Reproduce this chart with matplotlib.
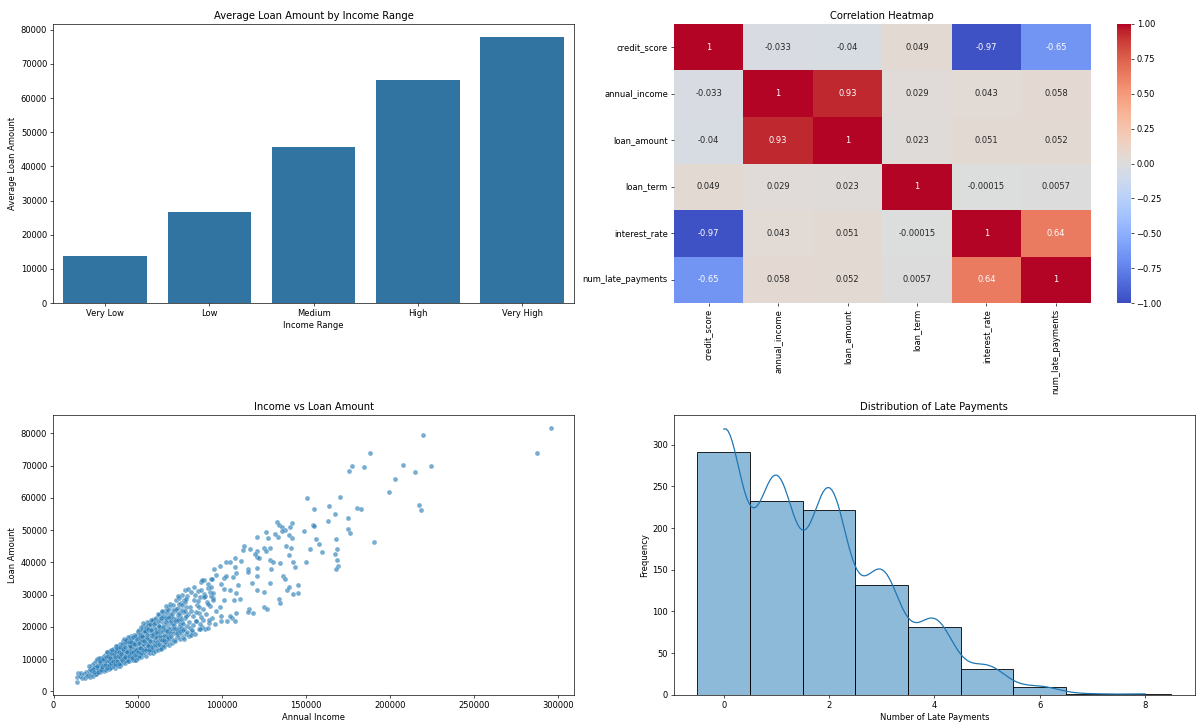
import numpy as np
import pandas as pd
import matplotlib
matplotlib.use('Agg')
import matplotlib.pyplot as plt
import seaborn as sns

# average loan by income range
income_ranges = ['Very Low', 'Low', 'Medium', 'High', 'Very High']
avg_loan = [13850, 26800, 45600, 65300, 77800]

# correlation matrix
cols = ['credit_score', 'annual_income', 'loan_amount', 'loan_term', 'interest_rate', 'num_late_payments']
corr_values = [
    [1, -0.033, -0.04, 0.049, -0.97, -0.65],
    [-0.033, 1, 0.93, 0.029, 0.043, 0.058],
    [-0.04, 0.93, 1, 0.023, 0.051, 0.052],
    [0.049, 0.029, 0.023, 1, -0.00015, 0.0057],
    [-0.97, 0.043, 0.051, -0.00015, 1, 0.64],
    [-0.65, 0.058, 0.052, 0.0057, 0.64, 1],
]

# income vs loan (dense part is approximate)
points = [
    (13800, 2900), (14100, 4400), (14300, 5600), (15600, 4700), (16200, 5800), (17100, 4100), (17900, 5500), (18600, 4200), (19400, 6100), (19800, 4900),
    (20500, 5100), (20900, 6300), (21400, 4600), (21800, 7000), (22300, 5500), (22700, 8200), (23100, 6200), (23500, 4900), (23900, 7600), (24200, 8900),
    (24600, 5400), (25000, 6700), (25300, 9400), (25700, 7200), (26100, 5600), (26400, 8300), (26800, 9900), (27200, 6400), (27500, 7800), (27900, 5900),
    (28200, 10300), (28500, 8600), (28800, 6700), (29100, 9200), (29400, 7400), (29700, 10800), (29900, 6200), (21100, 8000), (22000, 6800), (24800, 7500),
    (26000, 10100), (27700, 8700), (28900, 9800), (23300, 7100), (25500, 5300), (26600, 6900), (29600, 8200), (24000, 6000), (27000, 10500), (28400, 7000),
    (30200, 7000), (30500, 9100), (30800, 11200), (31100, 6600), (31400, 8400), (31700, 10400), (32000, 12100), (32300, 7700), (32600, 9600), (32900, 11500),
    (33200, 6900), (33500, 8800), (33800, 10900), (34100, 12700), (34400, 7500), (34700, 9300), (35000, 11800), (35300, 13300), (35600, 8100), (35900, 10200),
    (36200, 12400), (36500, 7400), (36800, 9700), (37100, 13700), (37400, 8500), (37700, 11000), (38000, 14200), (38300, 7900), (38600, 10600), (38900, 12900),
    (39200, 8800), (39500, 11700), (39800, 14800), (30300, 10100), (31200, 9500), (31900, 8000), (32700, 10800), (33400, 12500), (34000, 9900), (34900, 8500),
    (35500, 12200), (36000, 9000), (36700, 11300), (37300, 10100), (37900, 12000), (38500, 9200), (39100, 13600), (39700, 10400), (33000, 9400), (35200, 7800),
    (36400, 13100), (37600, 8200), (38800, 11400), (39400, 7900), (31500, 12300), (34600, 11100), (36900, 14100), (38200, 13200), (39900, 9700), (33700, 7300),
    (40200, 8500), (40500, 10900), (40800, 13400), (41100, 15600), (41400, 9200), (41700, 11800), (42000, 14400), (42300, 8800), (42600, 12300), (42900, 16100),
    (43200, 9800), (43500, 13000), (43800, 15200), (44100, 10400), (44400, 12700), (44700, 16700), (45000, 9400), (45300, 11600), (45600, 14700), (45900, 17100),
    (46200, 10000), (46500, 12900), (46800, 15800), (47100, 9700), (47400, 11300), (47700, 14000), (48000, 17600), (48300, 10600), (48600, 13500), (48900, 16300),
    (49200, 9900), (49500, 12200), (49800, 15000), (40400, 12200), (41000, 10100), (41600, 13900), (42200, 11000), (42800, 9300), (43400, 14900), (44000, 11500),
    (44600, 14100), (45200, 13200), (45800, 10800), (46400, 16600), (47000, 13300), (47600, 10300), (48200, 15400), (48800, 11800), (49400, 17800), (49900, 10700),
    (40700, 14600), (41300, 12500), (42500, 15300), (43100, 11400), (43700, 10000), (44300, 17000), (44900, 12000), (45500, 16000), (46100, 13800), (46700, 11100),
    (47300, 16900), (47900, 12600), (48500, 9800), (49100, 14300), (49700, 13100), (43000, 12600), (45700, 12500), (47200, 15000), (48700, 17300), (41900, 16400),
    (50200, 10300), (50500, 13200), (50800, 16500), (51100, 19200), (51400, 11200), (51700, 14400), (52000, 17400), (52300, 10700), (52600, 12900), (52900, 15900),
    (53200, 19900), (53500, 11700), (53800, 14000), (54100, 17000), (54400, 20500), (54700, 11100), (55000, 13600), (55300, 16200), (55600, 19000), (55900, 12300),
    (56200, 15000), (56500, 18100), (56800, 21200), (57100, 11800), (57400, 14600), (57700, 17600), (58000, 20300), (58300, 12800), (58600, 15700), (58900, 21900),
    (59200, 13300), (59500, 16800), (59800, 19600), (50400, 18600), (51000, 12400), (51600, 15600), (52200, 20100), (52800, 13800), (53400, 16900), (54000, 12200),
    (54600, 15400), (55200, 18300), (55800, 21400), (56400, 13100), (57000, 16300), (57600, 19300), (58200, 14100), (58800, 18700), (59400, 11900), (59900, 22600),
    (50700, 11000), (51300, 17800), (51900, 13500), (52500, 18900), (53100, 14600), (53700, 18300), (54300, 13200), (54900, 19800), (55500, 14800), (56100, 20600),
    (56700, 14300), (57300, 20800), (57900, 13000), (58500, 17200), (59100, 22300), (59700, 14900), (53000, 21200), (55700, 16700), (57800, 22100), (52400, 16000),
    (60300, 12600), (60600, 15800), (60900, 19400), (61200, 22900), (61500, 13400), (61800, 17100), (62100, 20700), (62400, 12900), (62700, 16400), (63000, 23700),
    (63300, 14200), (63600, 18600), (63900, 21800), (64200, 13600), (64500, 16900), (64800, 24500), (65100, 15200), (65400, 19300), (65700, 22400), (66000, 13900),
    (66300, 17500), (66600, 25300), (66900, 14800), (67200, 20200), (67500, 23200), (67800, 15600), (68100, 18700), (68400, 26200), (68700, 14500), (69000, 21300),
    (69300, 24100), (69600, 16300), (69900, 19800), (60500, 21300), (61100, 17800), (61700, 14300), (62300, 24000), (62900, 19000), (63500, 15900), (64100, 22700),
    (64700, 18400), (65300, 14100), (65900, 20800), (66500, 15400), (67100, 24400), (67700, 17900), (68300, 22000), (68900, 16600), (69500, 27000), (60800, 16800),
    (62000, 18200), (63200, 20100), (64400, 25000), (65600, 17200), (66800, 22700), (67400, 16200), (68600, 19500), (69800, 23100), (63800, 13100), (67000, 26600),
    (70300, 15000), (70600, 18800), (70900, 22700), (71200, 26900), (71500, 16100), (71800, 20500), (72100, 24800), (72400, 15500), (72700, 19300), (73000, 28200),
    (73300, 16900), (73600, 21900), (73900, 25800), (74200, 17400), (74500, 20100), (74800, 29000), (75100, 16300), (75400, 23300), (75700, 27400), (76000, 18200),
    (76300, 21500), (76600, 30000), (76900, 17000), (77200, 24600), (77500, 28500), (77800, 19300), (78100, 22700), (78400, 31300), (78700, 17700), (79000, 26100),
    (79300, 29700), (79600, 20400), (79900, 24000), (70800, 25200), (71700, 18100), (72600, 22600), (73500, 19000), (74400, 27100), (75300, 21000), (76200, 25100),
    (77100, 20800), (78000, 27700), (78900, 23500), (79800, 31800), (71000, 20900), (73800, 23800), (75900, 19700), (77700, 16400), (79500, 18500), (74000, 29700),
    (80300, 17200), (80800, 21600), (81300, 26100), (81800, 30700), (82300, 18400), (82800, 23400), (83300, 28300), (83800, 32400), (84300, 17900), (84800, 21900),
    (85300, 26800), (85800, 31100), (86300, 19300), (86800, 24300), (87300, 29200), (87800, 33800), (88300, 20000), (88800, 25500), (89300, 30200), (89800, 34600),
    (90300, 19500), (90800, 23900), (91300, 27800), (91800, 32200), (92300, 21200), (92800, 26400), (93300, 30800), (93800, 35000), (94300, 22800), (94800, 28900),
    (81000, 19700), (82000, 25000), (83000, 20700), (84000, 29800), (85000, 24700), (86000, 28100), (87000, 21000), (88000, 31600), (89000, 22300), (90000, 29600),
    (25800, 8000), (26300, 6000), (27400, 9300), (28000, 6500), (28700, 7600), (29300, 10000), (30600, 8100), (31000, 10700), (31600, 7200), (32200, 11000),
    (32800, 8300), (33300, 10300), (33900, 12000), (34300, 8900), (34800, 13000), (35400, 9500), (35800, 11500), (36300, 8500), (36600, 10700), (37000, 12600),
    (37500, 9400), (37800, 13500), (38100, 10900), (38700, 8600), (39000, 12300), (39300, 10800), (39600, 13900), (40100, 11500), (40600, 9600), (41200, 13200),
    (41800, 10500), (42400, 13700), (42700, 10700), (43300, 15800), (43900, 12200), (44200, 9300), (44800, 15400), (45100, 10900), (45400, 14200), (46000, 12000),
    (46300, 15200), (46900, 10500), (47500, 12300), (48100, 14600), (48400, 11400), (49000, 13000), (49600, 16400), (50100, 12100), (50600, 15000), (51200, 13600),
    (51500, 16900), (52100, 11800), (52700, 17100), (53300, 13000), (53900, 15500), (54200, 18600), (54800, 12700), (55400, 17400), (56000, 14200), (56300, 19400),
    (56900, 12900), (57500, 15500), (58100, 18900), (58700, 13800), (59300, 17700), (59600, 20900), (60100, 14400), (60700, 18300), (61300, 15300), (61900, 21800),
    (62500, 14800), (62800, 20400), (63400, 17200), (63700, 22900), (64300, 15800), (64900, 20100), (65200, 23500), (65800, 16000), (66200, 19000), (66700, 21600),
    (67300, 18800), (67900, 25200), (68200, 16800), (68800, 23000), (69200, 18000), (69700, 21900), (70100, 17100), (70500, 23900), (71400, 19600), (72000, 21800),
    (72800, 25700), (73400, 18000), (74100, 22300), (74700, 24300), (75500, 18800), (76100, 22600), (76700, 26700), (77300, 19200), (78200, 24900), (78800, 28800),
    (88400, 34600), (91600, 33400), (95500, 38100), (99100, 39000), (94500, 34900), (96800, 36200), (101400, 35300), (102700, 35900), (102300, 40000), (105200, 40000),
    (108200, 41300), (111400, 40400), (108000, 38700), (108600, 36600), (107000, 35600), (109500, 32900), (108600, 30400), (110900, 28700), (107500, 28400), (108600, 24300),
    (106400, 22700), (108000, 21900), (105200, 23400), (103000, 21700), (99500, 21900), (96100, 20900), (92500, 22200), (101400, 28400), (98900, 26300), (96600, 25000),
    (99500, 23400), (104800, 31300), (101400, 31700), (99800, 33200), (93400, 29600), (95000, 28400), (91600, 27100), (95000, 30400), (93900, 32500), (89300, 29400),
    (86800, 26300), (87900, 23100), (85000, 21900), (87000, 19300), (82500, 19100), (81600, 17400), (91600, 19700), (112500, 43700), (113600, 45200), (116600, 44100),
    (120800, 47900), (120800, 43500), (121300, 41800), (119700, 42600), (122200, 41300), (121300, 38300), (120800, 35900), (115400, 38000), (115400, 36900), (118200, 33700),
    (120800, 31500), (116000, 25500), (115400, 24700), (118900, 24300), (126600, 49500), (127700, 47600), (128900, 44500), (125300, 44400), (126600, 43500), (128900, 40800),
    (130800, 40200), (129100, 38000), (128700, 33600), (125200, 30900), (125000, 26100), (126800, 25500), (133000, 52500), (134300, 51500), (135700, 51000), (133600, 48000),
    (131800, 48800), (138200, 45200), (141000, 44400), (140000, 42300), (134800, 39700), (136400, 35900), (137900, 34900), (139100, 31300), (140200, 32400), (134300, 28600),
    (135000, 27400), (142000, 47700), (142000, 52300), (140600, 50900), (139800, 48400), (137600, 50100), (135900, 49600), (142500, 40200), (143900, 38700), (145500, 32900),
    (145200, 30400), (142700, 30100), (150900, 59900), (154800, 56600), (154100, 51600), (155200, 51300), (156100, 47200), (157700, 45800), (152700, 44200), (159500, 43200),
    (150000, 40200), (149300, 49600), (163600, 57600), (167300, 55100), (163200, 52700), (175000, 53700), (175000, 50200), (176600, 49200), (190900, 46200), (168000, 47400),
    (168900, 44200), (167300, 42500), (168900, 40800), (169100, 39000), (168000, 38100), (170200, 60300), (180700, 56800), (182700, 56600), (188200, 73900), (177500, 69800),
    (175900, 68300), (184600, 69600), (199500, 61700), (202900, 65700), (208200, 70200), (215200, 67900), (217700, 57700), (218900, 56100), (220000, 79400), (224800, 69800),
    (287700, 73900), (295700, 81600),
]
annual_income = [p[0] for p in points]
loan_amount = [p[1] for p in points]

# late payment counts
late_values = [0, 1, 2, 3, 4, 5, 6, 7, 8]
late_counts = [291, 232, 222, 132, 81, 31, 9, 1, 1]

corr = pd.DataFrame(corr_values, index=cols, columns=cols)
late_payments = np.repeat(late_values, late_counts)

plt.figure(figsize=(20, 12.01))

plt.subplot(2, 2, 1)
sns.barplot(x=income_ranges, y=avg_loan)
plt.title('Average Loan Amount by Income Range')
plt.xlabel('Income Range')
plt.ylabel('Average Loan Amount')

plt.subplot(2, 2, 2)
sns.heatmap(corr, annot=True, cmap='coolwarm', vmin=-1, vmax=1)
plt.title('Correlation Heatmap')

plt.subplot(2, 2, 3)
sns.scatterplot(x=annual_income, y=loan_amount, alpha=0.6)
plt.title('Income vs Loan Amount')
plt.xlabel('Annual Income')
plt.ylabel('Loan Amount')

plt.subplot(2, 2, 4)
sns.histplot(late_payments, discrete=True, kde=True)
plt.title('Distribution of Late Payments')
plt.xlabel('Number of Late Payments')
plt.ylabel('Frequency')

plt.tight_layout()
plt.subplots_adjust(top=0.967, bottom=0.039, hspace=0.402)
plt.savefig('out.png', dpi=60.2)
